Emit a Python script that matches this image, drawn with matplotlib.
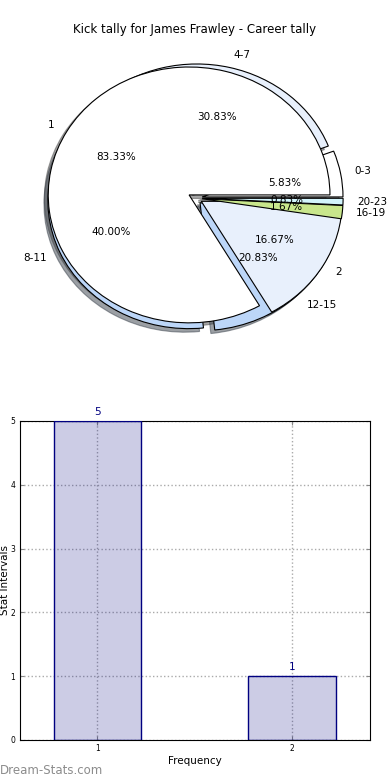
import matplotlib
matplotlib.use('Agg')
import matplotlib.pyplot as plt
from matplotlib.patches import Shadow

# kicks per time interval (pie A)
interval_labels = ['0-3', '4-7', '8-11', '12-15', '16-19', '20-23']
interval_counts = [7, 37, 48, 25, 2, 1]
interval_colors = ['#ffffff', '#e8f0fc', '#bcd6f8', '#bcd6f8', '#c8e68c', '#d2f4fc']

# frequency of tallies (pie B + bar chart)
freq_labels = ['1', '2']
freq_counts = [5, 1]
freq_colors = ['#ffffff', '#e8f0fc']

fig = plt.figure(figsize=(3.9, 7.8), dpi=100)
fig.text(0.5, 1 - 30 / 780, 'Kick tally for James Frawley - Career tally',
         ha='center', va='center', fontsize=8.5)

# --- pie ---
ax1 = fig.add_axes([0.049, 0.541, 0.903, 0.410])
wedgesA, _, _ = ax1.pie(interval_counts, labels=interval_labels, colors=interval_colors,
                        explode=[0.05] * len(interval_counts), autopct='%1.2f%%',
                        shadow=True, startangle=0,
                        wedgeprops=dict(edgecolor='black', linewidth=0.8),
                        textprops=dict(fontsize=7.5))
n_before = len(ax1.patches)
wedgesB, _, _ = ax1.pie(freq_counts, labels=freq_labels, colors=freq_colors,
                        explode=[0.05] * len(freq_counts), autopct='%1.2f%%',
                        shadow=True, startangle=0,
                        wedgeprops=dict(edgecolor='black', linewidth=0.8, zorder=2),
                        textprops=dict(fontsize=7.5))
# shadows of the second pie sit under the first pie
for p in ax1.patches[n_before:]:
    if isinstance(p, Shadow):
        p.set_zorder(0.5)
# the thin slices show through on the original
for w in wedgesA[4:]:
    w.set_zorder(2.5)
ax1.set_aspect('auto')
ax1.set_xlim(-1.25, 1.25)
ax1.set_ylim(-1.25, 1.25)

# --- bar chart ---
ax2 = fig.add_axes([0.05, 0.0513, 0.899, 0.409])
x = [int(l) for l in freq_labels]
ax2.bar(x, freq_counts, width=0.45, color='navy', alpha=0.2, zorder=2)
ax2.bar(x, freq_counts, width=0.45, facecolor='none', edgecolor='navy', linewidth=1, zorder=3)
for xi, v in zip(x, freq_counts):
    ax2.annotate(str(v), (xi, v), xytext=(0, 3), textcoords='offset points',
                 ha='center', va='bottom', color='navy', fontsize=7.5)
ax2.set_xlim(0.6, 2.4)
ax2.set_ylim(0, 5)
ax2.set_xticks(x)
ax2.set_yticks(range(0, 6))
ax2.grid(True, linestyle=':', color='#aaaaaa', linewidth=1)
ax2.tick_params(direction='in', top=True, right=True, length=3, color='#888888',
                labelsize=5.5, pad=3)
ax2.set_xlabel('Frequency', fontsize=7.5, labelpad=2)
ax2.set_ylabel('Stat Intervals', fontsize=7.5, labelpad=2)
ax2.yaxis.set_label_coords(-0.028, 0.5)

fig.text(0.0, 1 - 771 / 780, 'Dream-Stats.com', ha='left', va='center',
         fontsize=8.5, color='#8c8c8c')

fig.savefig('out.png', dpi=100)
